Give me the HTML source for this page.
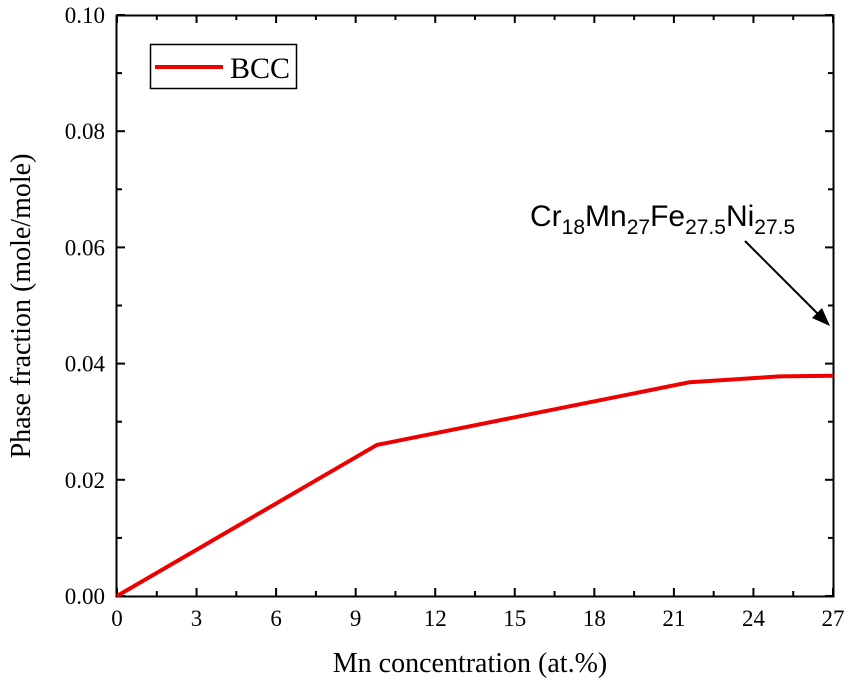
<!DOCTYPE html>
<html><head><meta charset="utf-8"><style>
body{margin:0;background:#fff;}
svg{display:block;font-family:"Liberation Serif",serif;}
</style></head><body>
<svg id="chart" width="848" height="683" viewBox="0 0 848 683">
<g id="ticks"></g>
<rect x="116.5" y="15.5" width="717" height="581" fill="none" stroke="#000" stroke-width="2"/>
<polyline id="line" fill="none" stroke="#e00" stroke-width="4" stroke-linejoin="round"/>
<g>
<rect x="150.5" y="44.5" width="146" height="44" fill="#fff" stroke="#000" stroke-width="1.5"/>
<line x1="155" y1="67" x2="223" y2="67" stroke="#e00" stroke-width="4"/>
<text x="230" y="78" font-size="30">BCC</text>
</g>
<text x="530" y="226" font-family="Liberation Sans, sans-serif" font-size="30">Cr<tspan font-size="21" dy="8">18</tspan><tspan dy="-8">Mn</tspan><tspan font-size="21" dy="8">27</tspan><tspan dy="-8">Fe</tspan><tspan font-size="21" dy="8">27.5</tspan><tspan dy="-8">Ni</tspan><tspan font-size="21" dy="8">27.5</tspan></text>
<line x1="745" y1="241" x2="818" y2="314" stroke="#000" stroke-width="2"/>
<polygon points="830,326 812,318 822,308" fill="#000"/>
<text x="470" y="672" text-anchor="middle" font-size="28">Mn concentration (at.%)</text>
<text transform="translate(30,306) rotate(-90)" text-anchor="middle" font-size="28">Phase fraction (mole/mole)</text>
</svg>
<script>
const xValues=[0,9.8,21.6,25,27];
const yValues=[0,0.026,0.0368,0.0378,0.0379];
const xTicks=[0,3,6,9,12,15,18,21,24,27];
const yTicks=[0,0.02,0.04,0.06,0.08,0.10];
const X0=117,X1=833,Y0=596,Y1=15;
function sx(v){return X0+(v-0)/27*(X1-X0);}
function sy(v){return Y0-(v/0.1)*(Y0-Y1);}
const NS="http://www.w3.org/2000/svg";
const g=document.getElementById('ticks');
function ln(x1,y1,x2,y2,name){const l=document.createElementNS(NS,'line');l.setAttribute('x1',x1);l.setAttribute('y1',y1);l.setAttribute('x2',x2);l.setAttribute('y2',y2);l.setAttribute('stroke','#000');l.setAttribute('stroke-width','2');


g.appendChild(l);}
function tx(x,y,s,anchor,name){const t=document.createElementNS(NS,'text');t.setAttribute('x',x);t.setAttribute('y',y);t.setAttribute('font-size','23');t.setAttribute('text-anchor',anchor);t.textContent=s;


g.appendChild(t);}
xTicks.forEach((v,i)=>{const x=sx(v);ln(x,Y0,x,Y0-8,'x-tick');ln(x,Y1,x,Y1+8,'x-tick-top');tx(x,Y0+30,String(v),'middle','x-tick-label');
if(i<xTicks.length-1){const m=sx(v+1.5);ln(m,Y0,m,Y0-5,'x-minor-tick');ln(m,Y1,m,Y1+5,'x-minor-tick-top');}});
yTicks.forEach((v,i)=>{const y=sy(v);ln(X0,y,X0+8,y,'y-tick');ln(X1,y,X1-8,y,'y-tick-right');tx(X0-12,y+8,v.toFixed(2),'end','y-tick-label');
if(i<yTicks.length-1){const m=sy(v+0.01);ln(X0,m,X0+5,m,'y-minor-tick');ln(X1,m,X1-5,m,'y-minor-tick-right');}});
document.getElementById('line').setAttribute('points',xValues.map((v,i)=>sx(v)+','+sy(yValues[i])).join(' '));
</script>
</body></html>
